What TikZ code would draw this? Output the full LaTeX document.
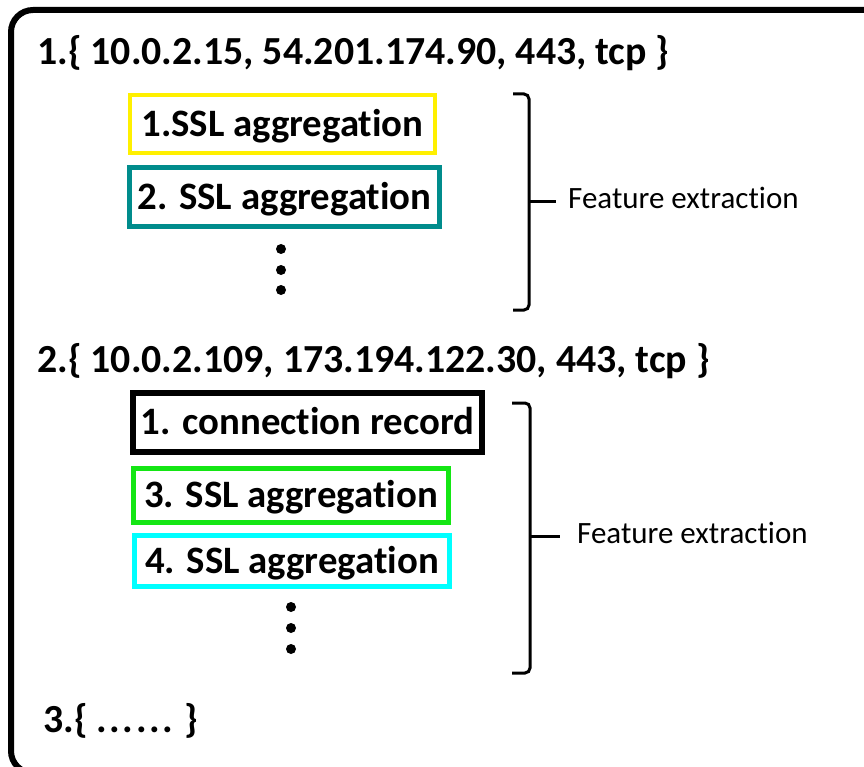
\documentclass[tikz,border=0pt]{standalone}
\usepackage{fontspec}
\setmainfont{Carlito}[Ligatures=NoCommon]
\definecolor{cyel}{RGB}{255,240,0}
\definecolor{cteal}{RGB}{0,140,140}
\definecolor{cgreen}{RGB}{20,230,20}
\definecolor{ccyan}{RGB}{0,255,255}
\newcommand{\mydots}{.\kern2.5pt.\kern2.5pt.\kern2.5pt.\kern2.5pt.\kern2.5pt.}
\begin{document}
\begin{tikzpicture}[x=1pt,y=-1pt,
  title/.style={font=\bfseries\fontsize{39.8}{44}\selectfont, anchor=base west, inner sep=0pt},
  recbox/.style={draw, font=\bfseries\fontsize{38.8}{44}\selectfont, inner sep=0pt,
    text height=24.8pt, text depth=0pt},
  fetext/.style={font=\fontsize{31}{36}\selectfont, anchor=base west, inner sep=0pt},
  brk/.style={line width=3pt, rounded corners=5pt},
  dotnode/.style={circle, fill=black, inner sep=0pt, minimum size=10pt}]
\useasboundingbox (0,0) rectangle (864,767);
\begin{scope}
  \clip (0,0) rectangle (864,767);
  \draw[line width=6pt, rounded corners=22pt] (11,10) rectangle (900,773);
\end{scope}

% group 1
\node[title] (t1) at (37,65) {1.\{ 10.0.2.15, 54.201.174.90, 443, tcp \}};
\node[recbox, draw=cyel, line width=4pt, minimum width=305pt, minimum height=58pt] (a1) at (282.5,124) {1.SSL aggregation};
\node[recbox, draw=cteal, line width=5pt, minimum width=310pt, minimum height=59pt] (a2) at (284.5,197) {2. SSL aggregation};
\node[dotnode] (d11) at (281,249) {};
\node[dotnode] (d12) at (281,270) {};
\node[dotnode] (d13) at (281,290) {};

\coordinate (b1t) at (513,94);
\coordinate (b1b) at (513,310);
\coordinate (b1m) at (529,202);
\coordinate (b1e) at (556,202);
\draw[brk] (b1t) -| (b1m) |- (b1b);
\draw[line width=3pt] (b1m) -- (b1e);
\node[fetext] (f1) at (568,209) {Feature extraction};

% group 2
\node[title] (t2) at (37,372) {2.\{ 10.0.2.109, 173.194.122.30, 443, tcp \}};
\node[recbox, draw=black, line width=6pt, minimum width=349pt, minimum height=59pt] (c1) at (307.5,422.5) {1. connection record};
\node[recbox, draw=cgreen, line width=5pt, minimum width=315pt, minimum height=54pt] (a3) at (291,495.5) {3. SSL aggregation};
\node[recbox, draw=ccyan, line width=5pt, minimum width=315pt, minimum height=51pt] (a4) at (292,561) {4. SSL aggregation};
\node[dotnode] (d21) at (291,607) {};
\node[dotnode] (d22) at (291,628) {};
\node[dotnode] (d23) at (291,649) {};

\coordinate (b2t) at (512,403);
\coordinate (b2b) at (512,673);
\coordinate (b2m) at (530,536);
\coordinate (b2e) at (560,536);
\draw[brk] (b2t) -| (b2m) |- (b2b);
\draw[line width=3pt] (b2m) -- (b2e);
\node[fetext] (f2) at (577,543) {Feature extraction};

% group 3
\node[title] (t3) at (43,732) {3.\{ \mydots{} \}};
\end{tikzpicture}
\end{document}
